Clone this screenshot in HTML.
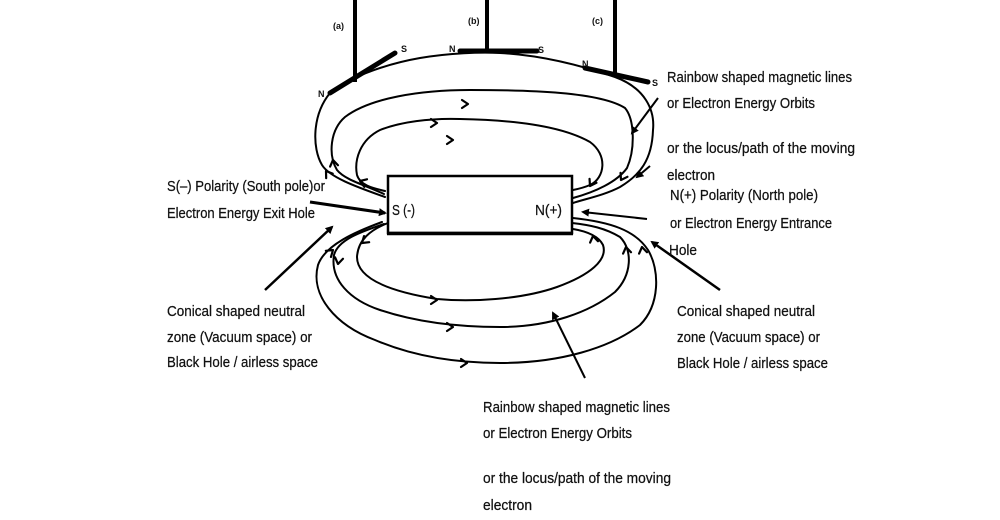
<!DOCTYPE html>
<html>
<head>
<meta charset="utf-8">
<style>
html,body{margin:0;padding:0;background:#fff;}
svg{display:block;}
.t{font-family:"Liberation Sans",sans-serif;font-size:15px;fill:#111;stroke:#111;stroke-width:0.25;}
.b{font-family:"Liberation Sans",sans-serif;font-size:9px;font-weight:bold;fill:#111;}
.c{fill:none;stroke:#000;stroke-width:2;stroke-linecap:round;}
.ch{fill:none;stroke:#000;stroke-width:2.2;stroke-linecap:round;stroke-linejoin:round;}
</style>
</head>
<body>
<svg width="1000" height="520" viewBox="0 0 1000 520" xmlns="http://www.w3.org/2000/svg">
<defs>
<marker id="ah" markerWidth="8" markerHeight="8" refX="6" refY="4" orient="auto" markerUnits="userSpaceOnUse">
<path d="M0,0 L8,4 L0,8 Z" fill="#000"/>
</marker>
</defs>
<rect width="1000" height="520" fill="#fff"/>

<!-- vertical suspension lines -->
<line x1="355" y1="0" x2="355" y2="82" stroke="#000" stroke-width="4"/>
<line x1="487" y1="0" x2="487" y2="53" stroke="#000" stroke-width="4"/>
<line x1="615" y1="0" x2="615" y2="75" stroke="#000" stroke-width="4"/>

<!-- magnets -->
<line x1="330" y1="93" x2="395" y2="53" stroke="#000" stroke-width="5" stroke-linecap="round"/>
<line x1="460" y1="51" x2="537" y2="51" stroke="#000" stroke-width="5" stroke-linecap="round"/>
<line x1="585" y1="68" x2="648" y2="82" stroke="#000" stroke-width="5" stroke-linecap="round"/>

<text class="b" x="333" y="29">(a)</text>
<text class="b" x="468" y="24">(b)</text>
<text class="b" x="592" y="24">(c)</text>
<text class="b" x="401" y="52">S</text>
<text class="b" x="318" y="97">N</text>
<text class="b" x="449" y="52">N</text>
<text class="b" x="538" y="53">S</text>
<text class="b" x="582" y="67">N</text>
<text class="b" x="652" y="86">S</text>

<!-- top loops -->
<path class="c" d="M 385 197 C 360 188, 330 178, 322 165 C 312 148, 312 115, 330 93 C 345 80, 380 65, 420 58 C 450 53, 480 52, 500 53 C 540 55, 580 65, 615 77 C 645 88, 655 110, 653 130 C 652 160, 640 175, 620 187 C 605 195, 585 199, 573 203"/>
<path class="c" d="M 384 194 C 365 185, 345 180, 337 170 C 328 155, 330 130, 345 117 C 370 98, 420 90, 470 90 C 530 90, 600 92, 625 108 C 635 120, 635 150, 627 168 C 617 182, 595 192, 573 198"/>
<path class="c" d="M 385 191 C 372 188, 360 185, 357 175 C 354 160, 360 140, 380 130 C 400 122, 430 118, 460 119 C 510 120, 560 125, 590 142 C 608 155, 605 178, 590 185 C 583 188, 578 189, 573 190"/>

<!-- bottom loops -->
<path class="c" d="M 388 223 C 370 230, 358 240, 357 257 C 357 275, 380 290, 437 299 C 470 302, 520 300, 557 287 C 590 275, 608 260, 603 245 C 598 235, 585 231, 573 229"/>
<path class="c" d="M 384 224 C 360 232, 338 240, 334 255 C 330 280, 350 300, 380 310 C 410 320, 450 327, 500 327 C 550 327, 590 312, 615 292 C 632 275, 633 250, 620 237 C 605 228, 590 225, 572 223"/>
<path class="c" d="M 382 222 C 355 232, 325 245, 318 265 C 310 295, 335 325, 375 340 C 410 355, 450 363, 500 363 C 560 363, 610 348, 640 325 C 660 305, 660 270, 648 250 C 635 230, 610 222, 573 218"/>
<path d="M 573 226 C 565 225, 560 227, 563 229 C 566 230, 570 229, 573 228" fill="#000" stroke="#000" stroke-width="1.5"/>

<!-- box -->
<rect x="388" y="176" width="184" height="57" fill="#fff" stroke="#000" stroke-width="2.5"/>
<line x1="387" y1="233.5" x2="573" y2="233.5" stroke="#000" stroke-width="3.5"/>
<text class="t" x="392" y="215" textLength="23" lengthAdjust="spacingAndGlyphs">S (-)</text>
<text class="t" x="535" y="215" textLength="27" lengthAdjust="spacingAndGlyphs">N(+)</text>

<!-- chevrons on curves -->
<g class="ch">
<g transform="translate(468,104)"><polyline points="-6,-4 0,0 -6,4"/></g>
<g transform="translate(437,123)"><polyline points="-6,-4 0,0 -6,4"/></g>
<g transform="translate(453,140)"><polyline points="-6,-4 0,0 -6,4"/></g>
<g transform="translate(333,160) rotate(-100)"><polyline points="-6,-4 0,0 -6,4"/></g>
<g transform="translate(326,171) rotate(-125)"><polyline points="-6,-4 0,0 -6,4"/></g>
<g transform="translate(360,181) rotate(-160)"><polyline points="-6,-4 0,0 -6,4"/></g>
<g transform="translate(590,186) rotate(120)"><polyline points="-6,-4 0,0 -6,4"/></g>
<g transform="translate(621,180) rotate(120)"><polyline points="-6,-4 0,0 -6,4"/></g>
<g transform="translate(437,300)"><polyline points="-6,-4 0,0 -6,4"/></g>
<g transform="translate(453,327)"><polyline points="-6,-4 0,0 -6,4"/></g>
<g transform="translate(467,363)"><polyline points="-6,-4 0,0 -6,4"/></g>
<g transform="translate(333,250) rotate(-40)"><polyline points="-6,-4 0,0 -6,4"/></g>
<g transform="translate(338,264) rotate(100)"><polyline points="-6,-4 0,0 -6,4"/></g>
<g transform="translate(362,243) rotate(140)"><polyline points="-6,-4 0,0 -6,4"/></g>
<g transform="translate(593,236) rotate(-100)"><polyline points="-6,-4 0,0 -6,4"/></g>
<g transform="translate(626,247) rotate(-100)"><polyline points="-6,-4 0,0 -6,4"/></g>
<g transform="translate(642,247) rotate(-100)"><polyline points="-6,-4 0,0 -6,4"/></g>
</g>

<!-- pointer arrows -->
<line x1="310" y1="202" x2="385" y2="213" stroke="#000" stroke-width="3" marker-end="url(#ah)"/>
<line x1="265" y1="290" x2="332" y2="227" stroke="#000" stroke-width="2.5" marker-end="url(#ah)"/>
<line x1="658" y1="98" x2="632" y2="133" stroke="#000" stroke-width="2" marker-end="url(#ah)"/>
<line x1="650" y1="166" x2="637" y2="177" stroke="#000" stroke-width="2" marker-end="url(#ah)"/>
<line x1="647" y1="219" x2="583" y2="212" stroke="#000" stroke-width="2" marker-end="url(#ah)"/>
<line x1="720" y1="290" x2="652" y2="242" stroke="#000" stroke-width="2.5" marker-end="url(#ah)"/>
<line x1="585" y1="378" x2="553" y2="313" stroke="#000" stroke-width="2" marker-end="url(#ah)"/>

<!-- left labels -->
<text class="t" x="167" y="191" textLength="158" lengthAdjust="spacingAndGlyphs">S(–) Polarity (South pole)or</text>
<text class="t" x="167" y="218" textLength="148" lengthAdjust="spacingAndGlyphs">Electron Energy Exit Hole</text>
<text class="t" x="167" y="316" textLength="138" lengthAdjust="spacingAndGlyphs">Conical shaped neutral</text>
<text class="t" x="167" y="342" textLength="145" lengthAdjust="spacingAndGlyphs">zone (Vacuum space) or</text>
<text class="t" x="167" y="367" textLength="151" lengthAdjust="spacingAndGlyphs">Black Hole / airless space</text>

<!-- right top labels -->
<text class="t" x="667" y="82" textLength="185" lengthAdjust="spacingAndGlyphs">Rainbow shaped magnetic lines</text>
<text class="t" x="667" y="108" textLength="148" lengthAdjust="spacingAndGlyphs">or Electron Energy Orbits</text>
<text class="t" x="667" y="153" textLength="188" lengthAdjust="spacingAndGlyphs">or the locus/path of the moving</text>
<text class="t" x="667" y="180" textLength="48" lengthAdjust="spacingAndGlyphs">electron</text>
<text class="t" x="670" y="200" textLength="148" lengthAdjust="spacingAndGlyphs">N(+) Polarity (North pole)</text>
<text class="t" x="670" y="228" textLength="162" lengthAdjust="spacingAndGlyphs">or Electron Energy Entrance</text>
<text class="t" x="669" y="255" textLength="28" lengthAdjust="spacingAndGlyphs">Hole</text>

<!-- right bottom labels -->
<text class="t" x="677" y="316" textLength="138" lengthAdjust="spacingAndGlyphs">Conical shaped neutral</text>
<text class="t" x="677" y="342" textLength="143" lengthAdjust="spacingAndGlyphs">zone (Vacuum space) or</text>
<text class="t" x="677" y="368" textLength="151" lengthAdjust="spacingAndGlyphs">Black Hole / airless space</text>

<!-- bottom labels -->
<text class="t" x="483" y="412" textLength="187" lengthAdjust="spacingAndGlyphs">Rainbow shaped magnetic lines</text>
<text class="t" x="483" y="438" textLength="149" lengthAdjust="spacingAndGlyphs">or Electron Energy Orbits</text>
<text class="t" x="483" y="483" textLength="188" lengthAdjust="spacingAndGlyphs">or the locus/path of the moving</text>
<text class="t" x="483" y="510" textLength="49" lengthAdjust="spacingAndGlyphs">electron</text>
</svg>
</body>
</html>
